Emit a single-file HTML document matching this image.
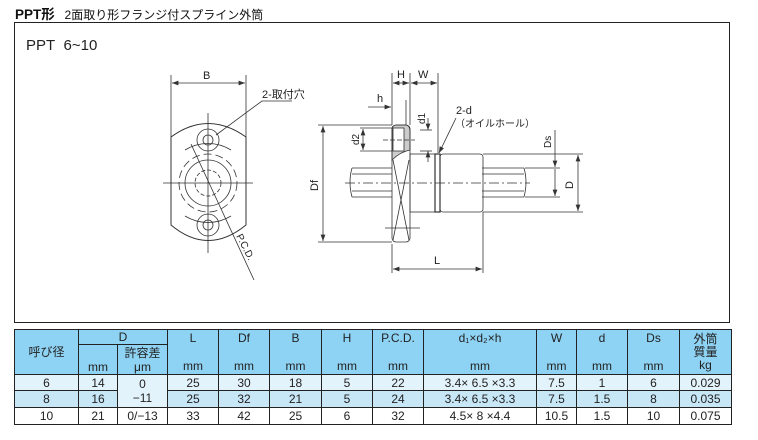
<!DOCTYPE html>
<html><head><meta charset="utf-8"><style>
body{margin:0;background:#fff;width:758px;height:440px;overflow:hidden;font-family:"Liberation Sans","Noto Sans CJK JP",sans-serif;}
.t{position:absolute;left:14px;top:329px;border-collapse:collapse;font-size:12px;color:#222;table-layout:fixed}
.t td{border:1px solid #222;text-align:center;padding:0;line-height:14px;overflow:hidden;white-space:nowrap}
.h td{background:#8fd3f4}
</style></head><body>
<div style="position:absolute;left:15px;top:3px;font-size:13.5px;font-weight:bold;color:#111">PPT形 <span style="font-weight:normal;font-size:12px;margin-left:6px">2面取り形フランジ付スプライン外筒</span></div>
<div style="position:absolute;left:14px;top:22px;width:714px;height:299px;border:1.3px solid #222"></div>
<div style="position:absolute;left:26px;top:37px;font-size:15px;color:#222">PPT&nbsp;&nbsp;6~10</div>
<svg style="position:absolute;left:0;top:0" width="758" height="440" font-family="Liberation Sans, Noto Sans CJK JP, sans-serif" font-size="11" fill="none" stroke="#333" stroke-width="0.8">
<defs><marker id="a" viewBox="0 0 8 6" refX="8" refY="3" markerWidth="8" markerHeight="6" orient="auto-start-reverse"><path d="M0,0L8,3L0,6z" fill="#333" stroke="none"/></marker></defs>
<line x1="171" y1="75" x2="171" y2="137"/><line x1="246" y1="75" x2="246" y2="137"/>
<line x1="172" y1="83" x2="245" y2="83" marker-start="url(#a)" marker-end="url(#a)"/>
<text x="203" y="79" fill="#222" stroke="none">B</text>
<path d="M171,137 Q208,110 246,137 L246,225 Q208,256 171,225 Z" stroke-width="1"/>
<line x1="163" y1="183" x2="253" y2="183"/><line x1="208" y1="113" x2="208" y2="253"/>
<circle cx="208" cy="140" r="11"/><circle cx="208" cy="140" r="5"/>
<circle cx="208" cy="225" r="11"/><circle cx="208" cy="225" r="5"/>
<circle cx="208" cy="183" r="23"/><circle cx="208" cy="183" r="13" stroke-dasharray="4 2"/>
<circle cx="208" cy="183" r="29" stroke-dasharray="8 4"/>
<path d="M185,150 A44,44 0 0 1 231,150 M185,216 A44,44 0 0 0 231,216" />
<line x1="191" y1="144" x2="254" y2="280"/>
<text transform="translate(236,236) rotate(63)" fill="#222" stroke="none" font-size="10">P.C.D.</text>
<path d="M216,135 L262,101 L292,101"/>
<text x="262" y="98" fill="#222" stroke="none">2-取付穴</text>
<line x1="392" y1="73" x2="392" y2="125"/><line x1="410" y1="73" x2="410" y2="125"/><line x1="438" y1="73" x2="438" y2="153"/>
<line x1="393" y1="83" x2="409" y2="83" marker-start="url(#a)" marker-end="url(#a)"/>
<line x1="411" y1="83" x2="437" y2="83" marker-start="url(#a)" marker-end="url(#a)"/>
<text x="397" y="78" fill="#222" stroke="none">H</text><text x="418" y="78" fill="#222" stroke="none">W</text>
<line x1="368" y1="107" x2="391" y2="107" marker-end="url(#a)"/><line x1="406" y1="100" x2="406" y2="125"/>
<text x="377" y="102" fill="#222" stroke="none">h</text>
<path d="M392,129 Q392,125 397,125 L405,125 Q410,125 410,131 L410,150 Q400,152 392,160 Z" fill="#ccc"/>
<rect x="393" y="128" width="11" height="23" fill="#fff"/>
<rect x="392" y="125" width="18" height="117" rx="4"/>
<path d="M393,160 L409,240 M409,160 L393,240"/>
<line x1="385" y1="228" x2="420" y2="228"/><line x1="383" y1="140" x2="415" y2="140" stroke-dasharray="5 2"/>
<line x1="360" y1="128" x2="392" y2="128"/><line x1="360" y1="151" x2="392" y2="151"/>
<line x1="363" y1="129" x2="363" y2="150" marker-start="url(#a)" marker-end="url(#a)"/>
<text transform="translate(359,145) rotate(-90)" fill="#222" stroke="none" font-size="10">d2</text>
<line x1="428" y1="118" x2="428" y2="130" marker-end="url(#a)"/><line x1="428" y1="162" x2="428" y2="151" marker-end="url(#a)"/>
<line x1="420" y1="130" x2="432" y2="130"/><line x1="420" y1="151" x2="432" y2="151"/>
<text transform="translate(425,124) rotate(-90)" fill="#222" stroke="none" font-size="10">d1</text>
<line x1="318" y1="125" x2="392" y2="125"/><line x1="318" y1="242" x2="392" y2="242"/>
<line x1="323" y1="126" x2="323" y2="241" marker-start="url(#a)" marker-end="url(#a)"/>
<text transform="translate(318,191) rotate(-90)" fill="#222" stroke="none">Df</text>
<path d="M352,168 L392,168 M352,197 L392,197 M352,174 L392,174 M352,191 L392,191 M482,168 L524,168 M482,197 L524,197 M482,174 L524,174 M482,191 L524,191"/>
<path d="M352,168 Q348,182 352,197 M524,168 Q528,182 524,197"/>
<rect x="410" y="154" width="25" height="58"/>
<rect x="435" y="154" width="5" height="58" stroke-width="1.2"/>
<rect x="440" y="154" width="43" height="58" rx="3"/>
<line x1="345" y1="183" x2="530" y2="183" stroke-dasharray="10 3 2 3"/>
<line x1="483" y1="154" x2="583" y2="154"/><line x1="483" y1="212" x2="583" y2="212"/>
<line x1="578" y1="155" x2="578" y2="211" marker-start="url(#a)" marker-end="url(#a)"/>
<text transform="translate(573,189) rotate(-90)" fill="#222" stroke="none">D</text>
<line x1="525" y1="168" x2="560" y2="168"/><line x1="525" y1="197" x2="560" y2="197"/>
<line x1="555" y1="130" x2="555" y2="167" marker-end="url(#a)"/>
<line x1="555" y1="169" x2="555" y2="196" marker-end="url(#a)"/>
<text transform="translate(551,148) rotate(-90)" fill="#222" stroke="none" font-size="10">Ds</text>
<line x1="392" y1="244" x2="392" y2="273"/><line x1="483" y1="212" x2="483" y2="273"/>
<line x1="393" y1="269" x2="482" y2="269" marker-start="url(#a)" marker-end="url(#a)"/>
<text x="434" y="264" fill="#222" stroke="none">L</text>
<line x1="456" y1="118" x2="439" y2="153" marker-end="url(#a)"/>
<text x="456" y="114" fill="#222" stroke="none">2-d</text>
<text x="455" y="127" fill="#222" stroke="none" font-size="10">（オイルホール）</text>
</svg>
<table class="t">
<colgroup><col style="width:64px"><col style="width:39px"><col style="width:50px"><col style="width:51px"><col style="width:51px"><col style="width:52px"><col style="width:51px"><col style="width:51px"><col style="width:113px"><col style="width:40px"><col style="width:51px"><col style="width:52px"><col style="width:52px"></colgroup>
<tr class="h" style="height:15px"><td rowspan="2">呼び径</td><td colspan="2">D</td>
<td rowspan="2">L<br><br>mm</td><td rowspan="2">Df<br><br>mm</td><td rowspan="2">B<br><br>mm</td><td rowspan="2">H<br><br>mm</td><td rowspan="2">P.C.D.<br><br>mm</td><td rowspan="2">d₁×d₂×h<br><br>mm</td><td rowspan="2">W<br><br>mm</td><td rowspan="2">d<br><br>mm</td><td rowspan="2">Ds<br><br>mm</td><td rowspan="2" style="line-height:13px">外筒<br>質量<br>kg</td></tr>
<tr class="h" style="height:30px"><td style="vertical-align:bottom">mm</td><td>許容差<br>μm</td></tr>
<tr style="height:16px;background:#e3f3fc"><td>6</td><td>14</td><td rowspan="2">0<br>−11</td><td>25</td><td>30</td><td>18</td><td>5</td><td>22</td><td>3.4× 6.5 ×3.3</td><td>7.5</td><td>1</td><td>6</td><td>0.029</td></tr>
<tr style="height:17px;background:#c7e7f7"><td>8</td><td>16</td><td>25</td><td>32</td><td>21</td><td>5</td><td>24</td><td>3.4× 6.5 ×3.3</td><td>7.5</td><td>1.5</td><td>8</td><td>0.035</td></tr>
<tr style="height:17px;background:#fff"><td>10</td><td>21</td><td>0/−13</td><td>33</td><td>42</td><td>25</td><td>6</td><td>32</td><td>4.5× 8 ×4.4</td><td>10.5</td><td>1.5</td><td>10</td><td>0.075</td></tr>
</table>
</body></html>
